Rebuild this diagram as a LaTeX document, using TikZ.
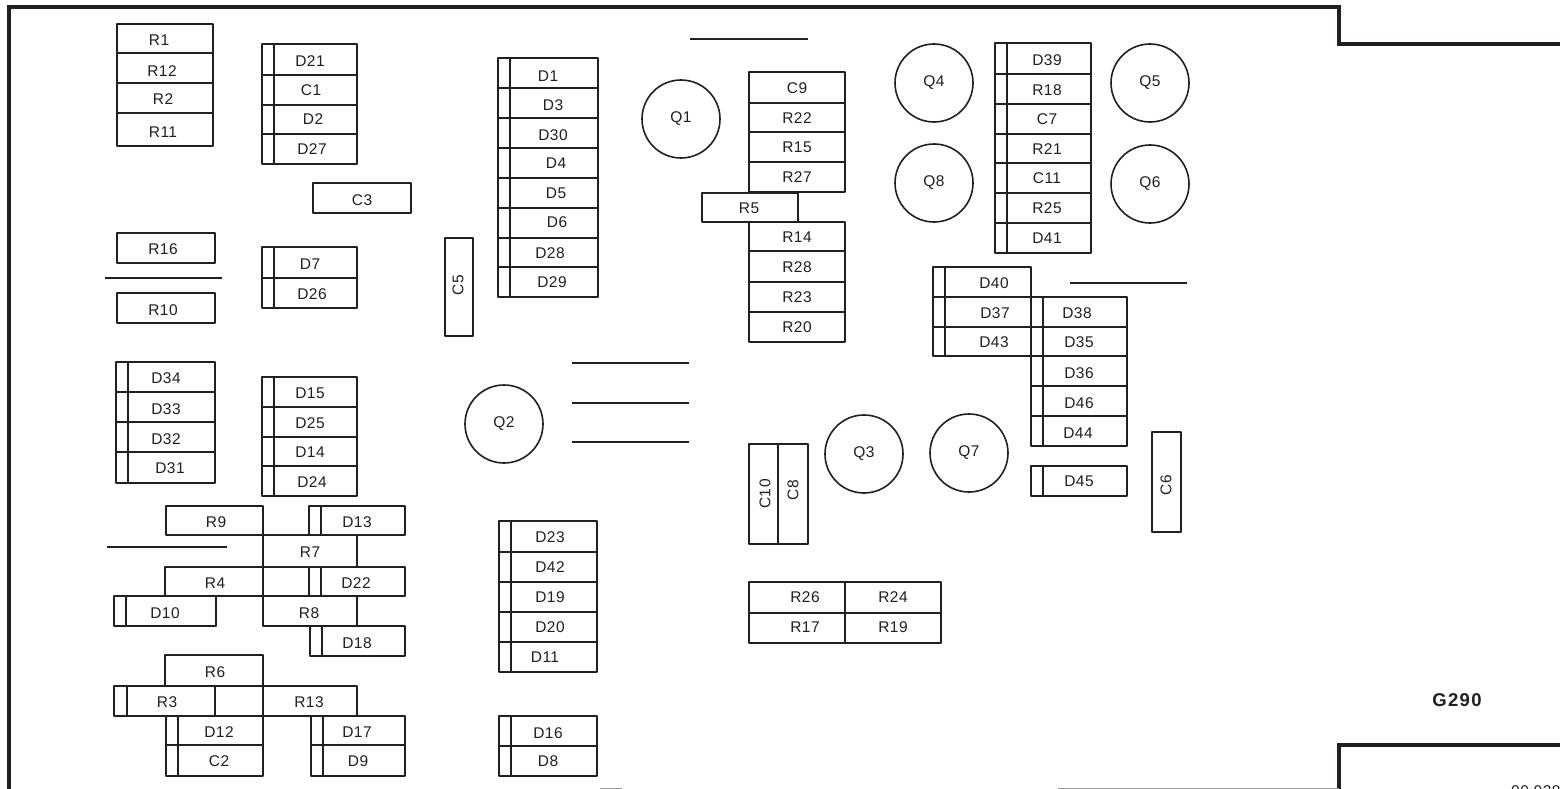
\documentclass[tikz,border=0pt]{standalone}
\usepackage{fontspec}
\setmainfont[LetterSpace=3]{Liberation Sans}
\newfontfamily\titlefont[LetterSpace=7]{Liberation Sans}
\definecolor{ink}{HTML}{231F20}
\tikzset{
 partbox/.style={draw=ink,line width=1.8pt,line join=round,inner sep=0pt,outer sep=0pt,fill=none},
 partlabel/.style={text=ink,font=\fontsize{15.5}{16}\selectfont,inner sep=0pt},
 transistor/.style={circle,draw=ink,line width=1.6pt,inner sep=0pt,outer sep=0pt,minimum size=78pt},
 outline/.style={draw=ink,line width=3.4pt,line join=miter},
 refline/.style={draw=ink,line width=1.7pt},
 band/.style={draw=ink,line width=1.8pt}
}
% id x0 y0 x1 y1 tx ty text
\newcommand{\pbx}[8]{%
 \node[partbox,minimum width={#4pt-#2pt},minimum height={#5pt-#3pt}] (#1) at ({(#2+#4)/2},{(#3+#5)/2}) {};
 \node[partlabel] (#1t) at (#6,#7) {#8};}
% same with a band of width 12
\newcommand{\dbx}[8]{%
 \pbx{#1}{#2}{#3}{#4}{#5}{#6}{#7}{#8}
 \draw[band] ([xshift=12pt]#1.north west) -- ([xshift=12pt]#1.south west);}
% rotated label
\newcommand{\cbx}[8]{%
 \node[partbox,minimum width={#4pt-#2pt},minimum height={#5pt-#3pt}] (#1) at ({(#2+#4)/2},{(#3+#5)/2}) {};
 \node[partlabel,rotate=90] (#1t) at (#6,#7) {#8};}
\newcommand{\qc}[4]{\node[transistor] (#1) at (#2,#3) {}; \node[partlabel] (#1t) at (#2,#3) {#4};}
\begin{document}
\begin{tikzpicture}[x=1pt,y=-1pt]
\useasboundingbox (0,0) rectangle (1560,789);
\clip (0,0) rectangle (1560,789);
\fill[white] (0,0) rectangle (1560,789);
% frame
\coordinate (fa) at (9,800); \coordinate (fb) at (9,7); \coordinate (fc) at (1339,7);
\coordinate (fd) at (1339,44); \coordinate (fe) at (1565,44);
\coordinate (ff) at (1565,745); \coordinate (fg) at (1339,745); \coordinate (fh) at (1339,789);
\draw[outline] (fa) -- (fb) -- (fc) -- (fd) -- (fe);
\draw[outline] (ff) -- (fg) -- (fh);
\coordinate (ga) at (1058,788.5); \coordinate (gb) at (1339,788.5);
\coordinate (gc) at (600,788.5); \coordinate (gd) at (622,788.5);
\draw[draw=ink!45,line width=1.4pt] (ga) -- (gb);
\draw[draw=ink!45,line width=1.4pt] (gc) -- (gd);
% free lines
\foreach \n/\a/\b/\y in {l1/105/222/278,l2/107/227/547,l3/690/808/39,l4/572/689/363,l5/572/689/403,l6/572/689/442,l7/1070/1187/283}{
 \coordinate (\n a) at (\a,\y); \coordinate (\n b) at (\b,\y);
 \draw[refline] (\n a) -- (\n b);}
% R column
\pbx{R1}{117}{24}{213}{53}{159}{40}{R1}
\pbx{R12}{117}{53}{213}{83}{162}{71}{R12}
\pbx{R2}{117}{83}{213}{113}{163}{99}{R2}
\pbx{R11}{117}{113}{213}{146}{163}{132}{R11}
\dbx{D21}{262}{44}{357}{75}{310}{61}{D21}
\dbx{C1}{262}{75}{357}{105}{311}{90}{C1}
\dbx{D2}{262}{105}{357}{134}{313}{119}{D2}
\dbx{D27}{262}{134}{357}{164}{312}{149}{D27}
\pbx{C3}{313}{183}{411}{213}{362}{200}{C3}
\pbx{R16}{117}{233}{215}{263}{163}{249}{R16}
\pbx{R10}{117}{293}{215}{323}{163}{310}{R10}
\dbx{D7}{262}{247}{357}{278}{310}{264}{D7}
\dbx{D26}{262}{278}{357}{308}{312}{294}{D26}
\cbx{C5}{445}{238}{473}{336}{458}{285}{C5}
\dbx{D34}{116}{362}{215}{392}{166}{378}{D34}
\dbx{D33}{116}{392}{215}{422}{166}{409}{D33}
\dbx{D32}{116}{422}{215}{452}{166}{439}{D32}
\dbx{D31}{116}{452}{215}{483}{170}{468}{D31}
\dbx{D15}{262}{377}{357}{407}{310}{393}{D15}
\dbx{D25}{262}{407}{357}{437}{310}{423}{D25}
\dbx{D14}{262}{437}{357}{466}{310}{452}{D14}
\dbx{D24}{262}{466}{357}{496}{312}{482}{D24}
% lower left
\pbx{R9}{166}{506}{263}{535}{216}{522}{R9}
\pbx{R7}{263}{535}{357}{567}{310}{552}{R7}
\pbx{R4}{165}{567}{263}{596}{215}{583}{R4}
\pbx{R8}{263}{596}{357}{626}{309}{613}{R8}
\pbx{R6}{165}{655}{263}{686}{215}{672}{R6}
\pbx{R13}{263}{686}{357}{716}{309}{702}{R13}
\node[partbox,minimum width=101pt,minimum height=30pt] (R3) at (164.5,701) {};
\node[partlabel] (R3t) at (167,702) {R3};
\draw[band] ([xshift=13pt]R3.north west) -- ([xshift=13pt]R3.south west);
\dbx{D13}{309}{506}{405}{535}{357}{522}{D13}
\dbx{D22}{309}{567}{405}{596}{356}{583}{D22}
\dbx{D10}{114}{596}{216}{626}{165}{613}{D10}
\dbx{D18}{310}{626}{405}{656}{357}{643}{D18}
\dbx{D12}{166}{716}{263}{745}{219}{732}{D12}
\dbx{C2}{166}{745}{263}{776}{219}{761}{C2}
\dbx{D17}{311}{716}{405}{745}{357}{732}{D17}
\dbx{D9}{311}{745}{405}{776}{358}{761}{D9}
% middle column
\dbx{D1}{498}{58}{598}{88}{548}{76}{D1}
\dbx{D3}{498}{88}{598}{118}{553}{105}{D3}
\dbx{D30}{498}{118}{598}{148}{553}{135}{D30}
\dbx{D4}{498}{148}{598}{178}{556}{163}{D4}
\dbx{D5}{498}{178}{598}{208}{556}{193}{D5}
\dbx{D6}{498}{208}{598}{238}{557}{222}{D6}
\dbx{D28}{498}{238}{598}{267}{550}{253}{D28}
\dbx{D29}{498}{267}{598}{297}{552}{282}{D29}
\dbx{D23}{499}{521}{597}{552}{550}{537}{D23}
\dbx{D42}{499}{552}{597}{582}{550}{567}{D42}
\dbx{D19}{499}{582}{597}{612}{550}{597}{D19}
\dbx{D20}{499}{612}{597}{642}{550}{627}{D20}
\dbx{D11}{499}{642}{597}{672}{545}{657}{D11}
\dbx{D16}{499}{716}{597}{746}{548}{733}{D16}
\dbx{D8}{499}{746}{597}{776}{548}{761}{D8}
% transistors
\qc{Q1}{681}{119}{Q1}
\qc{Q2}{504}{424}{Q2}
\qc{Q3}{864}{454}{Q3}
\qc{Q7}{969}{453}{Q7}
\qc{Q4}{934}{83}{Q4}
\qc{Q8}{934}{183}{Q8}
\qc{Q5}{1150}{83}{Q5}
\qc{Q6}{1150}{184}{Q6}
% R22 column
\pbx{C9}{749}{72}{845}{103}{797}{88}{C9}
\pbx{R22}{749}{103}{845}{132}{797}{118}{R22}
\pbx{R15}{749}{132}{845}{162}{797}{147}{R15}
\pbx{R27}{749}{162}{845}{192}{797}{177}{R27}
\pbx{R5}{702}{193}{798}{222}{749}{208}{R5}
\pbx{R14}{749}{222}{845}{251}{797}{237}{R14}
\pbx{R28}{749}{251}{845}{282}{797}{267}{R28}
\pbx{R23}{749}{282}{845}{312}{797}{297}{R23}
\pbx{R20}{749}{312}{845}{342}{797}{327}{R20}
\cbx{C10}{749}{444}{778}{544}{765}{494}{C10}
\cbx{C8}{778}{444}{808}{544}{793}{490}{C8}
\pbx{R26}{749}{582}{845}{613}{805}{597}{R26}
\pbx{R17}{749}{613}{845}{643}{805}{627}{R17}
\pbx{R24}{845}{582}{941}{613}{893}{597}{R24}
\pbx{R19}{845}{613}{941}{643}{893}{627}{R19}
% right column
\dbx{D39}{995}{43}{1091}{74}{1047}{60}{D39}
\dbx{R18}{995}{74}{1091}{104}{1047}{90}{R18}
\dbx{C7}{995}{104}{1091}{134}{1047}{119}{C7}
\dbx{R21}{995}{134}{1091}{163}{1047}{149}{R21}
\dbx{C11}{995}{163}{1091}{193}{1047}{178}{C11}
\dbx{R25}{995}{193}{1091}{223}{1047}{208}{R25}
\dbx{D41}{995}{223}{1091}{253}{1047}{238}{D41}
\dbx{D40}{933}{267}{1031}{297}{994}{283}{D40}
\dbx{D37}{933}{297}{1031}{327}{995}{313}{D37}
\dbx{D43}{933}{327}{1031}{356}{994}{342}{D43}
\dbx{D38}{1031}{297}{1127}{327}{1077}{313}{D38}
\dbx{D35}{1031}{327}{1127}{356}{1079}{342}{D35}
\dbx{D36}{1031}{356}{1127}{386}{1079}{373}{D36}
\dbx{D46}{1031}{386}{1127}{416}{1079}{403}{D46}
\dbx{D44}{1031}{416}{1127}{446}{1078}{433}{D44}
\dbx{D45}{1031}{466}{1127}{496}{1079}{481}{D45}
\cbx{C6}{1152}{432}{1181}{532}{1166}{485}{C6}
% texts
\node[partlabel,font=\fontsize{18.5}{19}\titlefont\bfseries] (title) at (1457,700) {G290};
\node[partlabel,anchor=west] (code) at (1511,791) {00 038};
\end{tikzpicture}
\end{document}
